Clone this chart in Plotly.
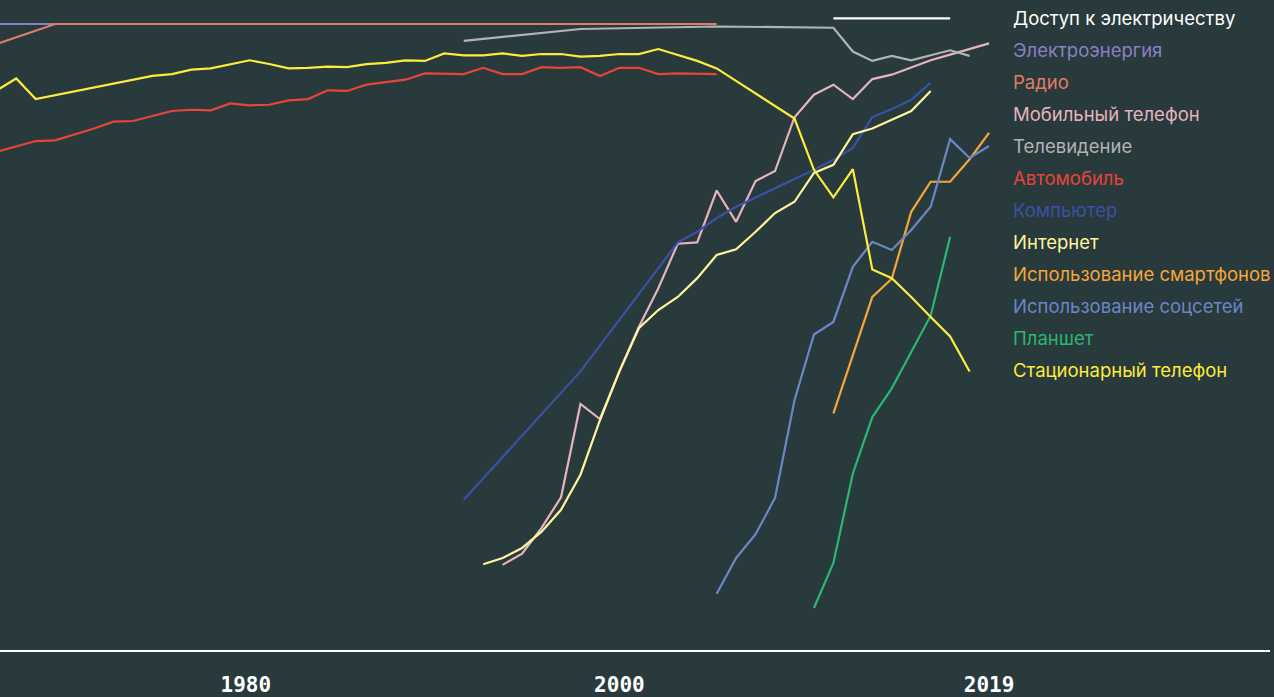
import plotly.graph_objects as go

# ---------------- data (share of US households, %) ----------------
access_years = [2011, 2017]
access_vals = [100.9, 100.9]

electricity_years = [1968, 2000]
electricity_vals = [100, 100]

radio_years = [1968, 1971, 2005]
radio_vals = [96.8, 100, 100]

mobile_years = [1994, 1995, 1996, 1997, 1998, 1999, 2000, 2001, 2002, 2003, 2004, 2005, 2006,
                2007, 2008, 2009, 2010, 2011, 2012, 2013, 2014, 2015, 2016, 2017, 2018, 2019]
mobile_vals = [13.6, 15.4, 19.5, 24.4, 39.3, 36.9, 44.5, 51.6, 57.8, 64.9, 65.1, 73.4, 68.4,
               74.9, 76.5, 85.1, 88.7, 90.3, 88.0, 91.2, 91.9, 93.1, 94.2, 95.1, 96.0, 96.9]

tv_years = [1992, 1998, 2005, 2011, 2012, 2013, 2014, 2015, 2016, 2017, 2018]
tv_vals = [97.3, 99.2, 99.6, 99.4, 95.6, 94.1, 94.9, 94.2, 95.0, 95.8, 94.9]

car_years = [1968, 1970, 1971, 1972, 1973, 1974, 1975, 1977, 1978, 1979, 1980, 1981, 1982,
             1983, 1984, 1985, 1986, 1987, 1988, 1989, 1990, 1991, 1992, 1993, 1994, 1995,
             1996, 1997, 1998, 1999, 2000, 2001, 2002, 2003, 2004, 2005]
car_vals = [79.6, 81.3, 81.4, 82.3, 83.3, 84.4, 84.5, 86.1, 86.3, 86.2, 87.3, 87.0, 87.1,
            87.8, 88.0, 89.4, 89.3, 90.3, 90.7, 91.1, 92.1, 92.1, 92.0, 93.0, 92.0, 92.0,
            93.1, 93.0, 93.1, 91.7, 93.0, 93.0, 92.0, 92.1, 92.1, 92.0]

computer_years = [1992, 1998, 2003, 2004, 2005, 2006, 2010, 2011, 2012, 2013, 2014, 2015, 2016]
computer_vals = [24.0, 44.5, 65.1, 66.8, 69.0, 70.8, 76.7, 78.3, 80.2, 85.1, 86.4, 87.9, 90.6]

internet_years = [1993, 1994, 1995, 1996, 1997, 1998, 1999, 2000, 2001, 2002, 2003, 2004,
                  2005, 2006, 2007, 2008, 2009, 2010, 2011, 2012, 2013, 2014, 2015, 2016]
internet_vals = [13.7, 14.7, 16.3, 18.9, 22.4, 28.0, 36.7, 44.5, 51.4, 54.3, 56.4, 59.4,
                 63.1, 64.0, 66.8, 69.8, 71.6, 76.2, 77.5, 82.4, 83.3, 84.7, 86.1, 89.3]

smartphone_years = [2011, 2012, 2013, 2014, 2015, 2016, 2017, 2018, 2019]
smartphone_vals = [37.8, 47.1, 56.4, 59.3, 70.0, 74.8, 74.8, 78.4, 82.6]

social_years = [2005, 2006, 2007, 2008, 2009, 2010, 2011, 2012, 2013, 2014, 2015, 2016,
                2017, 2018, 2019]
social_vals = [9.0, 14.7, 18.5, 24.3, 39.9, 50.4, 52.4, 61.2, 65.2, 63.9, 67.1, 70.8,
               81.6, 78.6, 80.5]

tablet_years = [2010, 2011, 2012, 2013, 2014, 2015, 2016, 2017]
tablet_vals = [6.7, 13.9, 28.2, 37.2, 41.8, 47.7, 53.4, 66.0]

landline_years = [1968, 1969, 1970, 1976, 1977, 1978, 1979, 1980, 1981, 1982, 1983, 1984,
                  1985, 1986, 1987, 1988, 1989, 1990, 1991, 1992, 1993, 1994, 1995, 1996,
                  1997, 1998, 1999, 2000, 2001, 2002, 2003, 2004, 2005, 2009, 2010, 2011,
                  2012, 2013, 2014, 2015, 2016, 2017, 2018]
landline_vals = [89.4, 91.3, 88.0, 91.7, 92.0, 92.7, 92.9, 93.5, 94.2, 93.6, 92.9, 93.0,
                 93.2, 93.1, 93.6, 93.8, 94.2, 94.1, 95.3, 95.0, 95.0, 95.3, 94.9, 95.2,
                 95.2, 94.8, 94.9, 95.2, 95.2, 96.0, 95.1, 94.1, 92.9, 84.9, 76.7, 72.3,
                 76.8, 60.8, 59.4, 56.4, 53.2, 50.1, 44.5]

series_names = ["Доступ к электричеству", "Электроэнергия", "Радио", "Мобильный телефон",
                "Телевидение", "Автомобиль", "Компьютер", "Интернет",
                "Использование смартфонов", "Использование соцсетей", "Планшет",
                "Стационарный телефон"]
series_years = [access_years, electricity_years, radio_years, mobile_years, tv_years,
                car_years, computer_years, internet_years, smartphone_years, social_years,
                tablet_years, landline_years]
series_vals = [access_vals, electricity_vals, radio_vals, mobile_vals, tv_vals, car_vals,
               computer_vals, internet_vals, smartphone_vals, social_vals, tablet_vals,
               landline_vals]
series_colors = ["#ffffff", "#8a80c6", "#e07c69", "#e6b3bf", "#b3b3b3", "#e8443a",
                 "#3a51a6", "#fff59c", "#f5a73a", "#6b87c8", "#2bb673", "#ffeb3b"]

tick_vals = [1980.8, 2000, 2019]
tick_text = ["1980", "2000", "2019"]

BG = "#283a3c"

fig = go.Figure()
for name, xs, ys, col in zip(series_names, series_years, series_vals, series_colors):
    fig.add_trace(go.Scatter(x=xs, y=ys, mode="lines", name=name,
                             line=dict(color=col, width=2.2), hoverinfo="skip"))

# legend as coloured text labels
for i, (name, col) in enumerate(zip(series_names, series_colors)):
    py = 18 + 32 * i
    fig.add_annotation(x=1011 / 1270, y=1 - py / 650, xref="paper", yref="paper",
                       text=name, showarrow=False, xanchor="left", yanchor="middle",
                       font=dict(family="Inter, Noto Sans, sans-serif", size=18.5, color=col))

fig.update_layout(
    width=1274, height=697,
    margin=dict(l=0, r=4, t=0, b=47, autoexpand=False),
    paper_bgcolor=BG, plot_bgcolor=BG,
    showlegend=False,
    xaxis=dict(range=[1968.165, 2033.44], showgrid=False, zeroline=False,
               automargin=False,
               showline=True, linecolor="#ffffff", linewidth=2,
               tickvals=tick_vals, ticktext=tick_text, ticks="",
               ticklabelstandoff=15,
               tickfont=dict(family="DejaVu Sans Mono", size=21, color="#ffffff",
                             weight="bold")),
    yaxis=dict(range=[0, 103.83], visible=False, showgrid=False, zeroline=False),
)

fig.write_html("out.html", config={"displayModeBar": False},
               post_script="document.body.style.margin='0';document.body.style.background='%s';" % BG)
